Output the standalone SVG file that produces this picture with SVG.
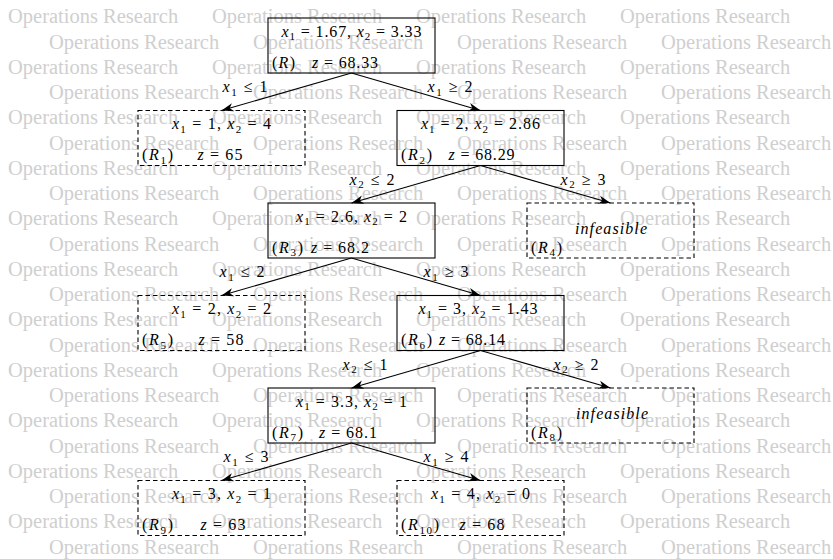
<svg xmlns="http://www.w3.org/2000/svg" width="833" height="559" viewBox="0 0 833 559">
  <style>
    .wm { font-family: "Liberation Serif", "Times New Roman", serif; font-size: 20.5px; fill: #cfcfcf; }
    .m { font-family: "Liberation Serif", "Times New Roman", serif; font-size: 16px; fill: #000; }
    .i { font-style: italic; }
    .s { font-size: 11px; }
    .box { fill: none; stroke: #000; stroke-width: 1.1; }
    .dash { stroke-dasharray: 4.5 3; }
    .edge { fill: none; stroke: #000; stroke-width: 1.1; marker-end: url(#arrow); }
  </style>
  <defs>
    <marker id="arrow" markerUnits="userSpaceOnUse" viewBox="-12 -5 13 10" refX="0" refY="0" markerWidth="13" markerHeight="10" orient="auto">
      <path d="M0,0 L-12,-4.2 L-8.5,0 L-12,4.2 Z" fill="#000"/>
    </marker>
  </defs>
  <rect width="833" height="559" fill="#fff"/>

  <!-- background watermark rows -->
  <g id="watermark" class="wm">
    <text y="23.3"><tspan x="8">Operations Research</tspan><tspan x="212">Operations Research</tspan><tspan x="416">Operations Research</tspan><tspan x="620">Operations Research</tspan></text>
    <text y="48.55"><tspan x="49">Operations Research</tspan><tspan x="253">Operations Research</tspan><tspan x="457">Operations Research</tspan><tspan x="661">Operations Research</tspan></text>
    <text y="73.8"><tspan x="8">Operations Research</tspan><tspan x="212">Operations Research</tspan><tspan x="416">Operations Research</tspan><tspan x="620">Operations Research</tspan></text>
    <text y="99.05"><tspan x="49">Operations Research</tspan><tspan x="253">Operations Research</tspan><tspan x="457">Operations Research</tspan><tspan x="661">Operations Research</tspan></text>
    <text y="124.3"><tspan x="8">Operations Research</tspan><tspan x="212">Operations Research</tspan><tspan x="416">Operations Research</tspan><tspan x="620">Operations Research</tspan></text>
    <text y="149.55"><tspan x="49">Operations Research</tspan><tspan x="253">Operations Research</tspan><tspan x="457">Operations Research</tspan><tspan x="661">Operations Research</tspan></text>
    <text y="174.8"><tspan x="8">Operations Research</tspan><tspan x="212">Operations Research</tspan><tspan x="416">Operations Research</tspan><tspan x="620">Operations Research</tspan></text>
    <text y="200.05"><tspan x="49">Operations Research</tspan><tspan x="253">Operations Research</tspan><tspan x="457">Operations Research</tspan><tspan x="661">Operations Research</tspan></text>
    <text y="225.3"><tspan x="8">Operations Research</tspan><tspan x="212">Operations Research</tspan><tspan x="416">Operations Research</tspan><tspan x="620">Operations Research</tspan></text>
    <text y="250.55"><tspan x="49">Operations Research</tspan><tspan x="253">Operations Research</tspan><tspan x="457">Operations Research</tspan><tspan x="661">Operations Research</tspan></text>
    <text y="275.8"><tspan x="8">Operations Research</tspan><tspan x="212">Operations Research</tspan><tspan x="416">Operations Research</tspan><tspan x="620">Operations Research</tspan></text>
    <text y="301.05"><tspan x="49">Operations Research</tspan><tspan x="253">Operations Research</tspan><tspan x="457">Operations Research</tspan><tspan x="661">Operations Research</tspan></text>
    <text y="326.3"><tspan x="8">Operations Research</tspan><tspan x="212">Operations Research</tspan><tspan x="416">Operations Research</tspan><tspan x="620">Operations Research</tspan></text>
    <text y="351.55"><tspan x="49">Operations Research</tspan><tspan x="253">Operations Research</tspan><tspan x="457">Operations Research</tspan><tspan x="661">Operations Research</tspan></text>
    <text y="376.8"><tspan x="8">Operations Research</tspan><tspan x="212">Operations Research</tspan><tspan x="416">Operations Research</tspan><tspan x="620">Operations Research</tspan></text>
    <text y="402.05"><tspan x="49">Operations Research</tspan><tspan x="253">Operations Research</tspan><tspan x="457">Operations Research</tspan><tspan x="661">Operations Research</tspan></text>
    <text y="427.3"><tspan x="8">Operations Research</tspan><tspan x="212">Operations Research</tspan><tspan x="416">Operations Research</tspan><tspan x="620">Operations Research</tspan></text>
    <text y="452.55"><tspan x="49">Operations Research</tspan><tspan x="253">Operations Research</tspan><tspan x="457">Operations Research</tspan><tspan x="661">Operations Research</tspan></text>
    <text y="477.8"><tspan x="8">Operations Research</tspan><tspan x="212">Operations Research</tspan><tspan x="416">Operations Research</tspan><tspan x="620">Operations Research</tspan></text>
    <text y="503.05"><tspan x="49">Operations Research</tspan><tspan x="253">Operations Research</tspan><tspan x="457">Operations Research</tspan><tspan x="661">Operations Research</tspan></text>
    <text y="528.3"><tspan x="8">Operations Research</tspan><tspan x="212">Operations Research</tspan><tspan x="416">Operations Research</tspan><tspan x="620">Operations Research</tspan></text>
    <text y="553.55"><tspan x="49">Operations Research</tspan><tspan x="253">Operations Research</tspan><tspan x="457">Operations Research</tspan><tspan x="661">Operations Research</tspan></text>
  </g>

  <!-- branching edges with their constraint labels -->
  <g id="connectors">
    <line class="edge" x1="351.5" y1="73" x2="221.5" y2="110.5"/>
    <line class="edge" x1="351.5" y1="73" x2="480.5" y2="110.5"/>
    <line class="edge" x1="480.5" y1="165.5" x2="351.5" y2="203"/>
    <line class="edge" x1="480.5" y1="165.5" x2="610.5" y2="203"/>
    <line class="edge" x1="351.5" y1="258" x2="221.5" y2="295.5"/>
    <line class="edge" x1="351.5" y1="258" x2="480.5" y2="295.5"/>
    <line class="edge" x1="480.5" y1="350.5" x2="351.5" y2="388"/>
    <line class="edge" x1="480.5" y1="350.5" x2="610.5" y2="388"/>
    <line class="edge" x1="351.5" y1="443" x2="221.5" y2="480.5"/>
    <line class="edge" x1="351.5" y1="443" x2="480.5" y2="480.5"/>

    <g class="m" text-anchor="middle">
      <text x="245" y="92" textLength="45" lengthAdjust="spacing"><tspan class="i">x</tspan><tspan class="s" dy="3.5">1</tspan><tspan dy="-3.5"> ≤ 1</tspan></text>
      <text x="450" y="92" textLength="45" lengthAdjust="spacing"><tspan class="i">x</tspan><tspan class="s" dy="3.5">1</tspan><tspan dy="-3.5"> ≥ 2</tspan></text>
      <text x="372" y="184.5" textLength="45" lengthAdjust="spacing"><tspan class="i">x</tspan><tspan class="s" dy="3.5">2</tspan><tspan dy="-3.5"> ≤ 2</tspan></text>
      <text x="583" y="184.5" textLength="45" lengthAdjust="spacing"><tspan class="i">x</tspan><tspan class="s" dy="3.5">2</tspan><tspan dy="-3.5"> ≥ 3</tspan></text>
      <text x="242" y="277" textLength="45" lengthAdjust="spacing"><tspan class="i">x</tspan><tspan class="s" dy="3.5">1</tspan><tspan dy="-3.5"> ≤ 2</tspan></text>
      <text x="446" y="277" textLength="45" lengthAdjust="spacing"><tspan class="i">x</tspan><tspan class="s" dy="3.5">1</tspan><tspan dy="-3.5"> ≥ 3</tspan></text>
      <text x="365" y="369.5" textLength="45" lengthAdjust="spacing"><tspan class="i">x</tspan><tspan class="s" dy="3.5">2</tspan><tspan dy="-3.5"> ≤ 1</tspan></text>
      <text x="576" y="369.5" textLength="45" lengthAdjust="spacing"><tspan class="i">x</tspan><tspan class="s" dy="3.5">2</tspan><tspan dy="-3.5"> ≥ 2</tspan></text>
      <text x="246" y="462" textLength="45" lengthAdjust="spacing"><tspan class="i">x</tspan><tspan class="s" dy="3.5">1</tspan><tspan dy="-3.5"> ≤ 3</tspan></text>
      <text x="446" y="462" textLength="45" lengthAdjust="spacing"><tspan class="i">x</tspan><tspan class="s" dy="3.5">1</tspan><tspan dy="-3.5"> ≥ 4</tspan></text>
    </g>
  </g>

  <!-- subproblem nodes -->
  <g id="R" class="m">
    <rect class="box" x="268" y="18" width="167" height="55"/>
    <text x="351.5" y="36.5" text-anchor="middle" textLength="140" lengthAdjust="spacing"><tspan class="i">x</tspan><tspan class="s" dy="3.5">1</tspan><tspan dy="-3.5"> = 1.67, </tspan><tspan class="i">x</tspan><tspan class="s" dy="3.5">2</tspan><tspan dy="-3.5"> = 3.33</tspan></text>
    <text x="272" y="67.5" textLength="23" lengthAdjust="spacing">(<tspan class="i">R</tspan>)</text>
    <text x="345" y="67.5" text-anchor="middle" textLength="66" lengthAdjust="spacing"><tspan class="i">z</tspan> = 68.33</text>
  </g>

  <g id="R1" class="m">
    <rect class="box dash" x="138" y="110.5" width="167" height="55"/>
    <text x="221.5" y="129" text-anchor="middle" textLength="99" lengthAdjust="spacing"><tspan class="i">x</tspan><tspan class="s" dy="3.5">1</tspan><tspan dy="-3.5"> = 1, </tspan><tspan class="i">x</tspan><tspan class="s" dy="3.5">2</tspan><tspan dy="-3.5"> = 4</tspan></text>
    <text x="142" y="160" textLength="31" lengthAdjust="spacing">(<tspan class="i">R</tspan><tspan class="s" dy="3.5">1</tspan><tspan dy="-3.5">)</tspan></text>
    <text x="220" y="160" text-anchor="middle" textLength="45" lengthAdjust="spacing"><tspan class="i">z</tspan> = 65</text>
  </g>

  <g id="R2" class="m">
    <rect class="box" x="397" y="110.5" width="167" height="55"/>
    <text x="480.5" y="129" text-anchor="middle" textLength="119" lengthAdjust="spacing"><tspan class="i">x</tspan><tspan class="s" dy="3.5">1</tspan><tspan dy="-3.5"> = 2, </tspan><tspan class="i">x</tspan><tspan class="s" dy="3.5">2</tspan><tspan dy="-3.5"> = 2.86</tspan></text>
    <text x="401" y="160" textLength="31" lengthAdjust="spacing">(<tspan class="i">R</tspan><tspan class="s" dy="3.5">2</tspan><tspan dy="-3.5">)</tspan></text>
    <text x="481.5" y="160" text-anchor="middle" textLength="66" lengthAdjust="spacing"><tspan class="i">z</tspan> = 68.29</text>
  </g>

  <g id="R3" class="m">
    <rect class="box" x="268" y="203" width="167" height="55"/>
    <text x="351.5" y="221.5" text-anchor="middle" textLength="111" lengthAdjust="spacing"><tspan class="i">x</tspan><tspan class="s" dy="3.5">1</tspan><tspan dy="-3.5"> = 2.6, </tspan><tspan class="i">x</tspan><tspan class="s" dy="3.5">2</tspan><tspan dy="-3.5"> = 2</tspan></text>
    <text x="272" y="252.5" textLength="31" lengthAdjust="spacing">(<tspan class="i">R</tspan><tspan class="s" dy="3.5">3</tspan><tspan dy="-3.5">)</tspan></text>
    <text x="340" y="252.5" text-anchor="middle" textLength="58" lengthAdjust="spacing"><tspan class="i">z</tspan> = 68.2</text>
  </g>

  <g id="R4" class="m">
    <rect class="box dash" x="527" y="203" width="167" height="55"/>
    <text class="i" x="611" y="234" text-anchor="middle" textLength="72" lengthAdjust="spacing">infeasible</text>
    <text x="531" y="252.5" textLength="31" lengthAdjust="spacing">(<tspan class="i">R</tspan><tspan class="s" dy="3.5">4</tspan><tspan dy="-3.5">)</tspan></text>
  </g>

  <g id="R5" class="m">
    <rect class="box dash" x="138" y="295.5" width="167" height="55"/>
    <text x="221.5" y="314" text-anchor="middle" textLength="99" lengthAdjust="spacing"><tspan class="i">x</tspan><tspan class="s" dy="3.5">1</tspan><tspan dy="-3.5"> = 2, </tspan><tspan class="i">x</tspan><tspan class="s" dy="3.5">2</tspan><tspan dy="-3.5"> = 2</tspan></text>
    <text x="142" y="345" textLength="31" lengthAdjust="spacing">(<tspan class="i">R</tspan><tspan class="s" dy="3.5">5</tspan><tspan dy="-3.5">)</tspan></text>
    <text x="221" y="345" text-anchor="middle" textLength="45" lengthAdjust="spacing"><tspan class="i">z</tspan> = 58</text>
  </g>

  <g id="R6" class="m">
    <rect class="box" x="397" y="295.5" width="167" height="55"/>
    <text x="478" y="314" text-anchor="middle" textLength="119" lengthAdjust="spacing"><tspan class="i">x</tspan><tspan class="s" dy="3.5">1</tspan><tspan dy="-3.5"> = 3, </tspan><tspan class="i">x</tspan><tspan class="s" dy="3.5">2</tspan><tspan dy="-3.5"> = 1.43</tspan></text>
    <text x="401" y="345" textLength="31" lengthAdjust="spacing">(<tspan class="i">R</tspan><tspan class="s" dy="3.5">6</tspan><tspan dy="-3.5">)</tspan></text>
    <text x="472" y="345" text-anchor="middle" textLength="66" lengthAdjust="spacing"><tspan class="i">z</tspan> = 68.14</text>
  </g>

  <g id="R7" class="m">
    <rect class="box" x="268" y="388" width="167" height="55"/>
    <text x="351.5" y="406.5" text-anchor="middle" textLength="111" lengthAdjust="spacing"><tspan class="i">x</tspan><tspan class="s" dy="3.5">1</tspan><tspan dy="-3.5"> = 3.3, </tspan><tspan class="i">x</tspan><tspan class="s" dy="3.5">2</tspan><tspan dy="-3.5"> = 1</tspan></text>
    <text x="272" y="437.5" textLength="31" lengthAdjust="spacing">(<tspan class="i">R</tspan><tspan class="s" dy="3.5">7</tspan><tspan dy="-3.5">)</tspan></text>
    <text x="348" y="437.5" text-anchor="middle" textLength="58" lengthAdjust="spacing"><tspan class="i">z</tspan> = 68.1</text>
  </g>

  <g id="R8" class="m">
    <rect class="box dash" x="527" y="388" width="167" height="55"/>
    <text class="i" x="612" y="419" text-anchor="middle" textLength="72" lengthAdjust="spacing">infeasible</text>
    <text x="531" y="437.5" textLength="31" lengthAdjust="spacing">(<tspan class="i">R</tspan><tspan class="s" dy="3.5">8</tspan><tspan dy="-3.5">)</tspan></text>
  </g>

  <g id="R9" class="m">
    <rect class="box dash" x="138" y="480.5" width="167" height="55"/>
    <text x="221.5" y="499" text-anchor="middle" textLength="99" lengthAdjust="spacing"><tspan class="i">x</tspan><tspan class="s" dy="3.5">1</tspan><tspan dy="-3.5"> = 3, </tspan><tspan class="i">x</tspan><tspan class="s" dy="3.5">2</tspan><tspan dy="-3.5"> = 1</tspan></text>
    <text x="142" y="530" textLength="31" lengthAdjust="spacing">(<tspan class="i">R</tspan><tspan class="s" dy="3.5">9</tspan><tspan dy="-3.5">)</tspan></text>
    <text x="223" y="530" text-anchor="middle" textLength="45" lengthAdjust="spacing"><tspan class="i">z</tspan> = 63</text>
  </g>

  <g id="R10" class="m">
    <rect class="box dash" x="397" y="480.5" width="167" height="55"/>
    <text x="480.5" y="499" text-anchor="middle" textLength="99" lengthAdjust="spacing"><tspan class="i">x</tspan><tspan class="s" dy="3.5">1</tspan><tspan dy="-3.5"> = 4, </tspan><tspan class="i">x</tspan><tspan class="s" dy="3.5">2</tspan><tspan dy="-3.5"> = 0</tspan></text>
    <text x="401" y="530" textLength="38" lengthAdjust="spacing">(<tspan class="i">R</tspan><tspan class="s" dy="3.5">10</tspan><tspan dy="-3.5">)</tspan></text>
    <text x="482" y="530" text-anchor="middle" textLength="45" lengthAdjust="spacing"><tspan class="i">z</tspan> = 68</text>
  </g>
</svg>
